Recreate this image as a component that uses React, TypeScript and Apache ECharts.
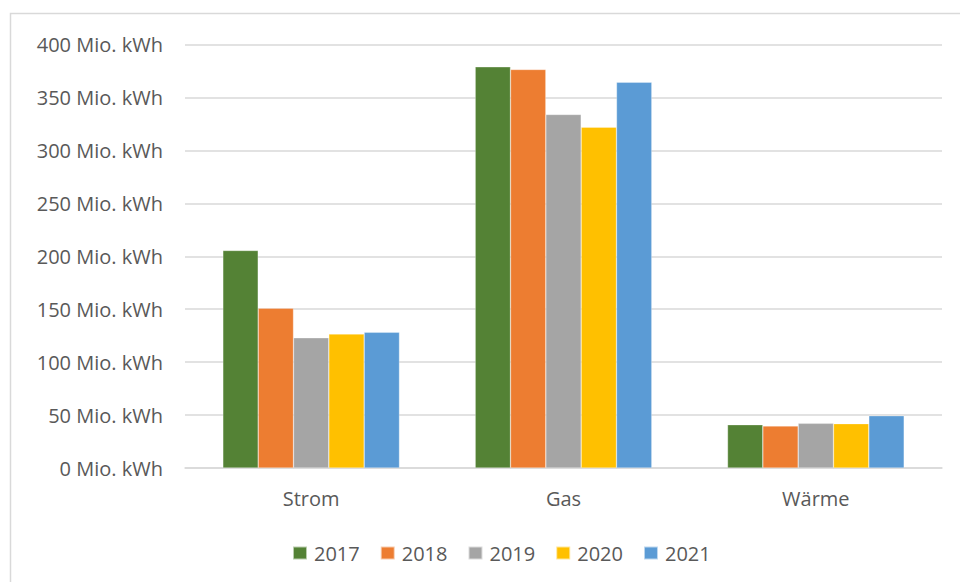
import React, { useEffect, useRef } from "react";
import * as echarts from "echarts";

const categories = ["Strom", "Gas", "Wärme"];
const years = ["2017", "2018", "2019", "2020", "2021"];
const colors = ["#548235", "#ED7D31", "#A5A5A5", "#FFC000", "#5B9BD5"];
const values2017 = [205.5, 379, 40.9];
const values2018 = [151, 376.5, 39.7];
const values2019 = [123, 334, 42.2];
const values2020 = [126.6, 322, 41.9];
const values2021 = [128.2, 364.4, 49.4];
const seriesValues = [values2017, values2018, values2019, values2020, values2021];

const FONT = "'Open Sans', 'Noto Sans', sans-serif";

export default function App() {
  const ref = useRef<HTMLDivElement>(null);
  useEffect(() => {
    if (!ref.current) return;
    const chart = echarts.init(ref.current, undefined, { renderer: "svg" });
    chart.setOption({
      animation: false,
      backgroundColor: "#ffffff",
      graphic: [
        {
          type: "rect",
          shape: { x: 10.5, y: 13.5, width: 1000, height: 600 },
          style: { fill: "none", stroke: "#d9d9d9", lineWidth: 1.5 },
          silent: true,
        },
      ],
      grid: { left: 185, right: 18, top: 44.6, bottom: 114, containLabel: false },
      legend: {
        top: 538,
        left: 287,
        itemWidth: 14,
        itemHeight: 13,
        itemGap: 20,
        icon: "rect",
        textStyle: { color: "#595959", fontSize: 20, fontFamily: FONT, padding: [0, 0, 0, 2] },
        data: years,
      },
      xAxis: {
        type: "category",
        data: categories,
        axisLine: { show: true, lineStyle: { color: "#d9d9d9", width: 1.5 } },
        axisTick: { show: false },
        axisLabel: { color: "#595959", fontSize: 20, fontFamily: FONT, margin: 20 },
      },
      yAxis: {
        type: "value",
        min: 0,
        max: 400,
        interval: 50,
        axisLine: { show: false },
        axisTick: { show: false },
        axisLabel: {
          color: "#595959",
          fontSize: 20,
          fontFamily: FONT,
          margin: 22,
          formatter: (v: number) => `${v} Mio. kWh`,
        },
        splitLine: { lineStyle: { color: "#d9d9d9", width: 1.5 } },
      },
      series: years.map((y, i) => ({
        name: y,
        type: "bar",
        data: seriesValues[i],
        barGap: "0%",
        barCategoryGap: "30%",
        itemStyle: { color: colors[i], borderColor: "rgba(255,255,255,0.6)", borderWidth: 0.5 },
      })),
    });
    return () => chart.dispose();
  }, []);
  return (
    <div
      ref={ref}
      style={{ position: "fixed", left: 0, top: 0, width: 960, height: 582 }}
    />
  );
}
